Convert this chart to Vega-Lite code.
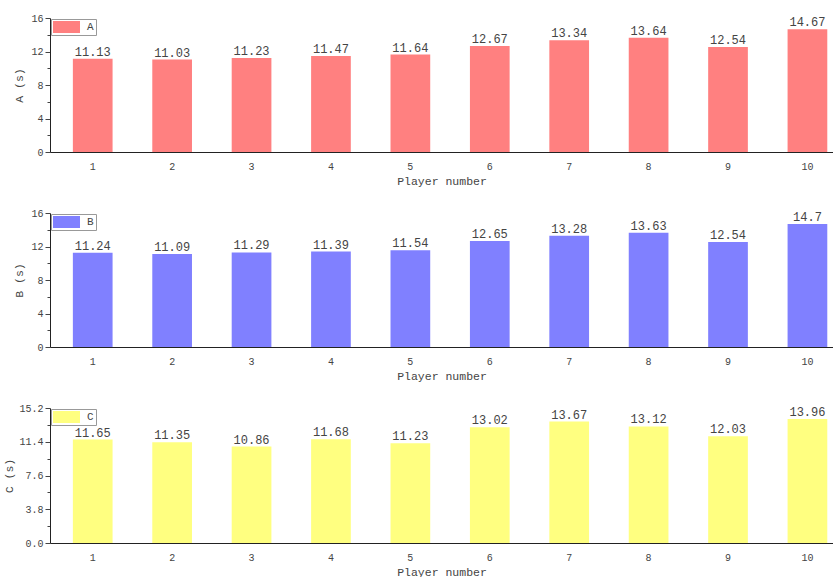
{
  "$schema": "https://vega.github.io/schema/vega-lite/v6.json",
  "padding": {"left": 3, "top": 13, "right": 0, "bottom": 0},
  "background": "white",
  "config": {
    "font": "Liberation Mono",
    "view": {"stroke": null},
    "axis": {"labelColor": "#444", "titleColor": "#444", "domainColor": "#222", "tickColor": "#444", "labelFont": "Liberation Mono", "titleFont": "Liberation Mono", "titleFontWeight": "normal", "grid": false},
    "legend": {"labelFont": "Liberation Mono"}
  },
  "datasets": {
    "times": [
      {"s": "A", "player": 1, "value": 11.13},
      {"s": "A", "player": 2, "value": 11.03},
      {"s": "A", "player": 3, "value": 11.23},
      {"s": "A", "player": 4, "value": 11.47},
      {"s": "A", "player": 5, "value": 11.64},
      {"s": "A", "player": 6, "value": 12.67},
      {"s": "A", "player": 7, "value": 13.34},
      {"s": "A", "player": 8, "value": 13.64},
      {"s": "A", "player": 9, "value": 12.54},
      {"s": "A", "player": 10, "value": 14.67},
      {"s": "B", "player": 1, "value": 11.24},
      {"s": "B", "player": 2, "value": 11.09},
      {"s": "B", "player": 3, "value": 11.29},
      {"s": "B", "player": 4, "value": 11.39},
      {"s": "B", "player": 5, "value": 11.54},
      {"s": "B", "player": 6, "value": 12.65},
      {"s": "B", "player": 7, "value": 13.28},
      {"s": "B", "player": 8, "value": 13.63},
      {"s": "B", "player": 9, "value": 12.54},
      {"s": "B", "player": 10, "value": 14.7},
      {"s": "C", "player": 1, "value": 11.65},
      {"s": "C", "player": 2, "value": 11.35},
      {"s": "C", "player": 3, "value": 10.86},
      {"s": "C", "player": 4, "value": 11.68},
      {"s": "C", "player": 5, "value": 11.23},
      {"s": "C", "player": 6, "value": 13.02},
      {"s": "C", "player": 7, "value": 13.67},
      {"s": "C", "player": 8, "value": 13.12},
      {"s": "C", "player": 9, "value": 12.03},
      {"s": "C", "player": 10, "value": 13.96}
    ]
  },
  "data": {"name": "times"},
  "spacing": 21,
  "vconcat": [
    {
      "width": 783, "height": 134,
      "transform": [{"filter": "datum.s === 'A'"}],
      "encoding": {
        "x": {"field": "player", "type": "ordinal", "scale": {"paddingInner": 0.5, "paddingOuter": 0.18, "align": 0.8},
          "axis": {"title": "Player number", "labelAngle": 0, "ticks": false, "labelPadding": 9, "labelFontSize": 10, "titleFontSize": 11.5, "titlePadding": 4}},
        "y": {"field": "value", "type": "quantitative", "scale": {"domain": [0, 16], "nice": false},
          "axis": {"title": "A (s)", "values": [0,2,4,6,8,10,12,14,16], "labelExpr": "datum.value % 4 === 0 ? datum.label : ''",
            "tickSize": {"condition": {"test": "datum.value % 4 === 0", "value": 5}, "value": 3}, "labelPadding": 2, "labelFontSize": 10, "titleFontSize": 11.5, "titlePadding": 6}}
      },
      "layer": [
        {"mark": {"type": "bar"},
          "encoding": {"color": {"field": "s", "type": "nominal", "scale": {"domain": ["A"], "range": ["#ff8080"]},
            "legend": {"title": null, "orient": "top-left", "offset": 1, "strokeColor": "#999", "padding": 2, "symbolType": "M-1,-1H3.5V1H-1Z", "symbolSize": 144, "symbolStrokeWidth": 0, "labelOffset": 22, "labelFontSize": 11, "labelColor": "#444"}}}},
        {"mark": {"type": "text", "baseline": "alphabetic", "dy": -3, "fontSize": 12, "color": "#444"},
          "encoding": {"text": {"field": "value", "type": "nominal"}}}
      ]
    },
    {
      "width": 783, "height": 134,
      "transform": [{"filter": "datum.s === 'B'"}],
      "encoding": {
        "x": {"field": "player", "type": "ordinal", "scale": {"paddingInner": 0.5, "paddingOuter": 0.18, "align": 0.8},
          "axis": {"title": "Player number", "labelAngle": 0, "ticks": false, "labelPadding": 9, "labelFontSize": 10, "titleFontSize": 11.5, "titlePadding": 4}},
        "y": {"field": "value", "type": "quantitative", "scale": {"domain": [0, 16], "nice": false},
          "axis": {"title": "B (s)", "values": [0,2,4,6,8,10,12,14,16], "labelExpr": "datum.value % 4 === 0 ? datum.label : ''",
            "tickSize": {"condition": {"test": "datum.value % 4 === 0", "value": 5}, "value": 3}, "labelPadding": 2, "labelFontSize": 10, "titleFontSize": 11.5, "titlePadding": 6}}
      },
      "layer": [
        {"mark": {"type": "bar"},
          "encoding": {"color": {"field": "s", "type": "nominal", "scale": {"domain": ["B"], "range": ["#8080ff"]},
            "legend": {"title": null, "orient": "top-left", "offset": 1, "strokeColor": "#999", "padding": 2, "symbolType": "M-1,-1H3.5V1H-1Z", "symbolSize": 144, "symbolStrokeWidth": 0, "labelOffset": 22, "labelFontSize": 11, "labelColor": "#444"}}}},
        {"mark": {"type": "text", "baseline": "alphabetic", "dy": -3, "fontSize": 12, "color": "#444"},
          "encoding": {"text": {"field": "value", "type": "nominal"}}}
      ]
    },
    {
      "width": 783, "height": 135,
      "transform": [{"filter": "datum.s === 'C'"}],
      "encoding": {
        "x": {"field": "player", "type": "ordinal", "scale": {"paddingInner": 0.5, "paddingOuter": 0.18, "align": 0.8},
          "axis": {"title": "Player number", "labelAngle": 0, "ticks": false, "labelPadding": 9, "labelFontSize": 10, "titleFontSize": 11.5, "titlePadding": 4}},
        "y": {"field": "value", "type": "quantitative", "scale": {"domain": [0, 15.2], "nice": false},
          "axis": {"title": "C (s)", "values": [0,1.9,3.8,5.7,7.6,9.5,11.4,13.3,15.2], "format": ".1f", "labelExpr": "round(datum.value / 1.9) % 2 === 0 ? datum.label : ''",
            "tickSize": {"condition": {"test": "round(datum.value / 1.9) % 2 === 0", "value": 5}, "value": 3}, "labelPadding": 2, "labelFontSize": 10, "titleFontSize": 11.5, "titlePadding": 4}}
      },
      "layer": [
        {"mark": {"type": "bar"},
          "encoding": {"color": {"field": "s", "type": "nominal", "scale": {"domain": ["C"], "range": ["#ffff80"]},
            "legend": {"title": null, "orient": "top-left", "offset": 1, "strokeColor": "#999", "padding": 2, "symbolType": "M-1,-1H3.5V1H-1Z", "symbolSize": 144, "symbolStrokeWidth": 0, "labelOffset": 22, "labelFontSize": 11, "labelColor": "#444"}}}},
        {"mark": {"type": "text", "baseline": "alphabetic", "dy": -3, "fontSize": 12, "color": "#444"},
          "encoding": {"text": {"field": "value", "type": "nominal"}}}
      ]
    }
  ],
  "resolve": {"scale": {"color": "independent", "y": "independent"}}
}
